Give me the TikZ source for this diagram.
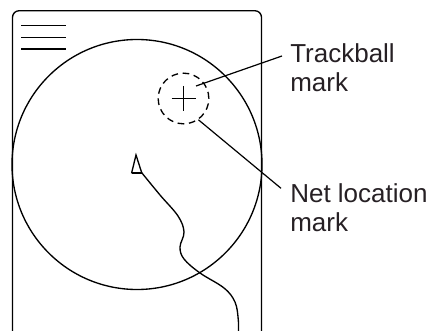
\documentclass[tikz,border=0pt]{standalone}
\usepackage{fontspec}
\setmainfont{Liberation Sans}
\usetikzlibrary{positioning}
\definecolor{lbltext}{RGB}{38,32,36}
\tikzset{
  outline/.style={line width=1pt, black},
  leader/.style={line width=0.9pt, black},
  lbl/.style={font=\fontsize{19.5}{21.75}\selectfont, text=lbltext, align=left, inner sep=0pt},
}

\begin{document}
\begin{tikzpicture}[x=0.75pt, y=-0.75pt]
  \useasboundingbox (0,0) rectangle (431,331);
  \clip (0,0) rectangle (431,331);
  % Display frame
  \draw[outline, rounded corners=5pt] (12.5,10.7) rectangle (261.5,345);
  % Menu bars
  \foreach \y in {25.5,37.5,49} {
    \draw[outline] (21,\y) -- (66,\y);
  }
  % Radar range circle
  \draw[outline] (137,164.5) circle (125);
  % Trackball mark (dashed ring with cross)
  \node[draw, outline, dash pattern=on 5pt off 3.5pt, circle, minimum size=38pt, inner sep=0pt] (tbmark) at (183.5,98.5) {};
  \draw[outline] (tbmark.center) ++(-12,0) -- ++(24,0);
  \draw[outline] (tbmark.center) ++(0,-12.5) -- ++(0,25);
  % Own ship and track
  \draw[outline] (136,155) -- (141.7,172.7) -- (131.7,172.7) -- cycle;
  \draw[line width=1.6pt] (131.7,172.7) -- (141.7,172.7);
  \draw[outline] plot[smooth, tension=0.6] coordinates {(141.7,172.7) (160,195) (178,216) (184,232) (180,247) (184,259) (200,273) (224,288) (235,302) (238.3,320) (238.3,336)};
  % Labels
  \node[lbl, anchor=base west] (tblabel) at (290,92) {Trackball\\mark};
  \node[lbl, anchor=base west] (netlabel) at (290,231.5) {Net location\\mark};
  \coordinate (tbtip) at (196,86);
  \coordinate (tbend) at (282,56);
  \coordinate (netend) at (281,188.3);
  \draw[leader] (tbtip) -- (tbend);
  \draw[leader] (tbmark.-55) -- (netend);
\end{tikzpicture}
\end{document}
